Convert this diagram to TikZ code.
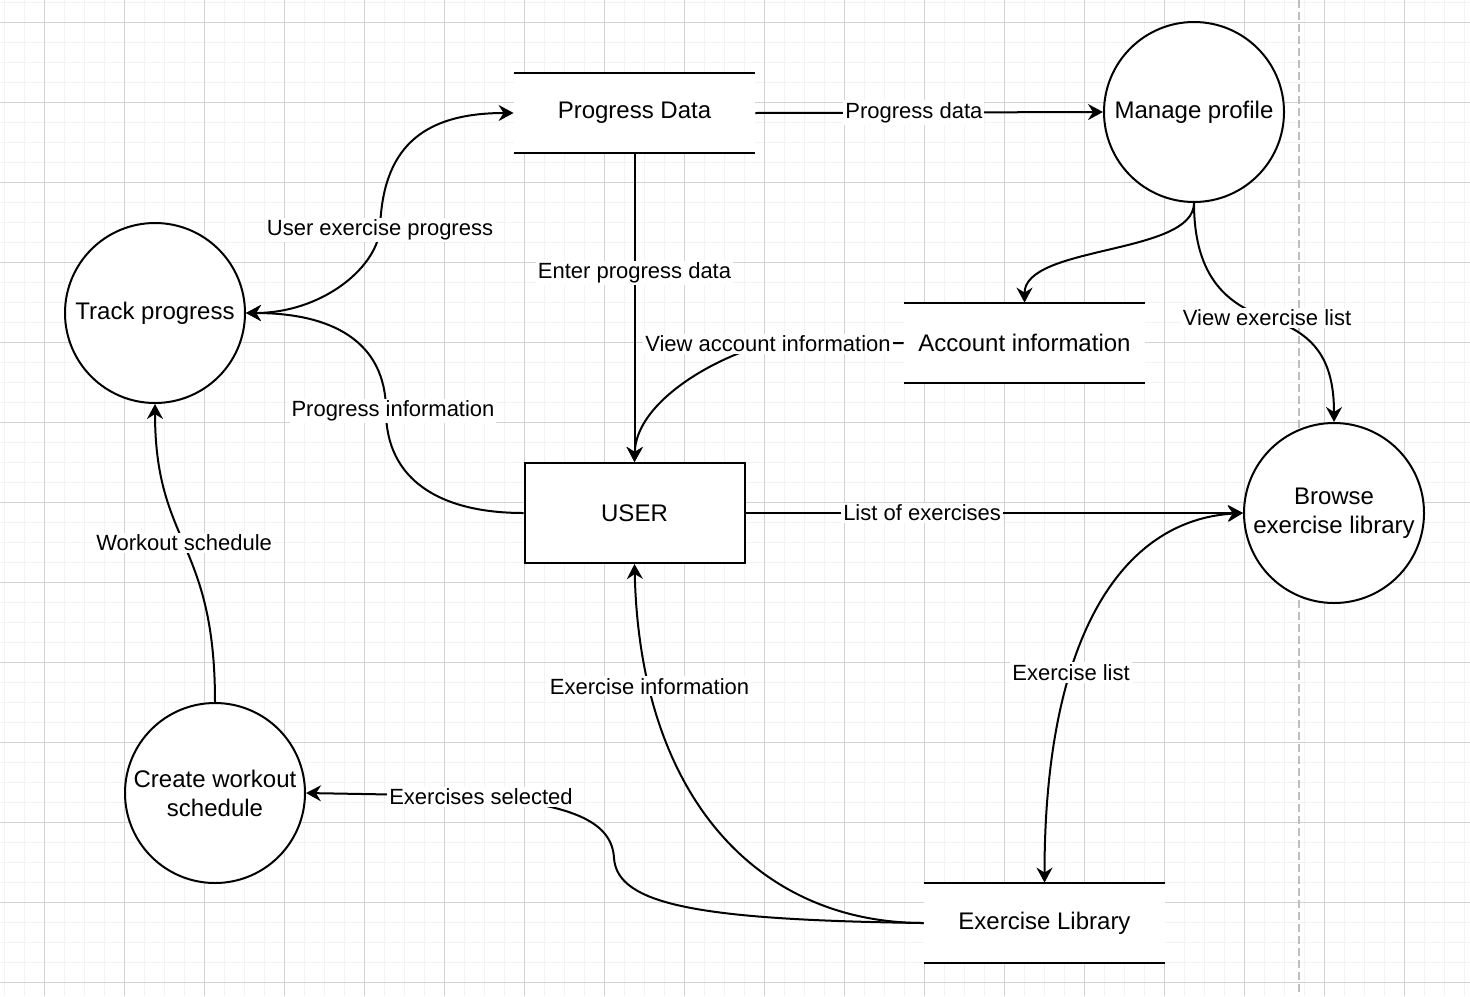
\documentclass[tikz,border=0pt]{standalone}
\usepackage{fontspec}
\setmainfont{Liberation Sans}
\usetikzlibrary{arrows.meta}
\definecolor{gridminor}{RGB}{243,243,243}
\definecolor{gridmajor}{RGB}{210,210,210}
\definecolor{divider}{RGB}{190,190,190}

\begin{document}
\begin{tikzpicture}[x=0.5pt, y=-0.5pt,
	>={Stealth[length=7.5pt, width=8pt, inset=2.5pt]},
	proc/.style={circle, draw, line width=1pt, fill=white, minimum size=90pt, inner sep=0pt, align=center, font=\fontsize{12}{14.5}\selectfont},
	ent/.style={draw, line width=1pt, fill=white, minimum width=110pt, minimum height=50pt, font=\fontsize{12}{14.5}\selectfont},
	storeline/.style={draw, line width=1pt},
	store/.style={fill=white, minimum width=120.5pt, minimum height=40pt, inner sep=0pt, font=\fontsize{12}{14.5}\selectfont,
		append after command={\pgfextra{\let\stnode\tikzlastnode} (\stnode.north west) edge[storeline] (\stnode.north east) (\stnode.south west) edge[storeline] (\stnode.south east)}},
	flow/.style={line width=1pt, ->},
	lbl/.style={fill=white, inner sep=1pt, font=\fontsize{11}{13}\selectfont}]
	\useasboundingbox (0,0) rectangle (1470,996);
	% grid
	\foreach \gx in {4,24,...,1464} \draw[gridminor, line width=0.5pt] (\gx,0) -- (\gx,996);
	\foreach \gy in {2,22,...,982} \draw[gridminor, line width=0.5pt] (0,\gy) -- (1470,\gy);
	\foreach \gx in {44,124,...,1404} \draw[gridmajor, line width=0.5pt] (\gx,0) -- (\gx,996);
	\foreach \gy in {22,102,...,982} \draw[gridmajor, line width=0.5pt] (0,\gy) -- (1470,\gy);
	\draw[divider, line width=1pt, dash pattern=on 4pt off 2pt] (1299,0) -- (1299,996);

	% data stores
	\node[store] (pdata) at (634.5,113) {Progress Data};
	\node[store] (acct) at (1024.5,343) {Account information};
	\node[store] (exlib) at (1044.5,923) {Exercise Library};
	% entity
	\node[ent] (user) at (634.5,513) {USER};
	% processes
	\node[proc] (profile) at (1194,112) {Manage profile};
	\node[proc] (track) at (155,313) {Track progress};
	\node[proc] (browse) at (1334,513) {Browse\\exercise library};
	\node[proc] (sched) at (215,793) {Create workout\\schedule};

	% flows
	\draw[flow] (pdata.east) -- (profile.west) node[lbl, pos=0.456] {Progress data};
	\draw[flow, <->] (track.east) .. controls (320,313) and (375,270) .. (380,230) node[lbl] {User exercise progress} .. controls (382,150) and (420,113) .. (pdata.west);
	\draw[flow] (pdata.south) -- (user.north) node[lbl, pos=0.387] {Enter progress data};
	\draw[flow] (user.west) .. controls (440,513) and (386,480) .. (386,411) node[lbl, xshift=3.5pt] {Progress information} .. controls (386,340) and (330,313) .. (track.east);
	\draw[flow] (acct.west) -- (768,344) node[lbl] {View account information} .. controls (720,355) and (636,400) .. (user.north);
	\draw[flow] (profile.south) .. controls (1194,255) and (1024.5,245) .. (acct.north);
	\draw[flow] (profile.south) .. controls (1194,280) and (1230,305) .. (1267,318) node[lbl] {View exercise list} .. controls (1315,333) and (1334,360) .. (browse.north);
	\draw[flow] (user.east) -- (browse.west) node[lbl, pos=0.355] {List of exercises};
	\draw[flow, <->] (browse.west) .. controls (1120,520) and (1044.5,640) .. (exlib.north) node[lbl, pos=0.65] {Exercise list};
	\draw[flow] (exlib.west) .. controls (760,923) and (640,800) .. (user.south) node[lbl, pos=0.81] {Exercise information};
	\draw[flow] (exlib.west) .. controls (700,920) and (617,905) .. (614,858) .. controls (612,825) and (580,805) .. (481,797) node[lbl] {Exercises selected} .. controls (420,795) .. (sched.east);
	\draw[flow] (sched.north) .. controls (215,540) and (155,545) .. (track.south) node[lbl, pos=0.51] {Workout schedule};
\end{tikzpicture}
\end{document}
